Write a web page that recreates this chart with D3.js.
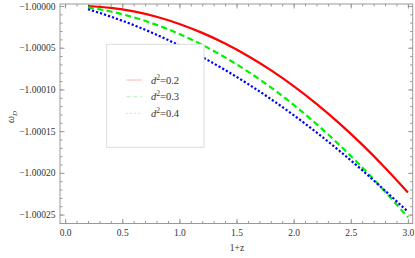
<!DOCTYPE html>
<html>
<head>
<meta charset="utf-8">
<script src="https://cdn.jsdelivr.net/npm/d3@7"></script>
<style>
  body { margin: 0; background: #fff; }
  svg { display: block; }
  .tick text { font-family: "Liberation Serif", "Times New Roman", serif; font-size: 9.5px; fill: #333; }
  .tick line { stroke: #999; }
</style>
</head>
<body>
<svg id="chart" width="415" height="258"></svg>
<script>
// values, one per 0.2 step of 1+z
var zs = [0.2, 0.4, 0.6, 0.8, 1.0, 1.2, 1.4, 1.6, 1.8, 2.0, 2.2, 2.4, 2.6, 2.8, 3.0];
var wD02 = [-1.0000000, -1.0000022, -1.0000065, -1.0000129, -1.0000215, -1.0000322, -1.0000450, -1.0000599,
            -1.0000769, -1.0000960, -1.0001173, -1.0001407, -1.0001662, -1.0001938, -1.0002235];
var wD03 = [-1.0000016, -1.0000066, -1.0000136, -1.0000226, -1.0000336, -1.0000466, -1.0000616, -1.0000786,
            -1.0000975, -1.0001185, -1.0001415, -1.0001665, -1.0001935, -1.0002224, -1.0002533];
var wD04 = [-1.0000039, -1.0000128, -1.0000229, -1.0000344, -1.0000472, -1.0000613, -1.0000767, -1.0000934,
            -1.0001115, -1.0001308, -1.0001515, -1.0001735, -1.0001968, -1.0002214, -1.0002466];
var legendLabels = ["0.2", "0.3", "0.4"];
var xMajor = [0, 0.5, 1, 1.5, 2, 2.5, 3];
var yMajor = [-1.0, -1.00005, -1.0001, -1.00015, -1.0002, -1.00025];

var svg = d3.select("#chart");
// plot frame edges (window.top is taken, so no "top")
var frameL = 60, frameR = 412.7, frameT = 4, frameB = 223.5;

var x = d3.scaleLinear().domain([-0.045, 3.042]).range([frameL, frameR]);
var y = d3.scaleLinear().domain([-0.9999976, -1.0002607]).range([frameT, frameB]);

var xMinor = d3.range(0, 31).map(function(i) { return i / 10; });
var yMinor = d3.range(0, 27).map(function(i) { return -1 - i * 0.00001; });

// frame
svg.append("rect")
  .attr("x", frameL).attr("y", frameT)
  .attr("width", frameR - frameL).attr("height", frameB - frameT)
  .attr("fill", "none").attr("stroke", "#999").attr("stroke-width", 1);

function addAxis(axis, tx, ty) {
  var g = svg.append("g").attr("transform", "translate(" + tx + "," + ty + ")").call(axis);
  g.select(".domain").remove();
  return g;
}

// bottom + top
addAxis(d3.axisBottom(x).tickValues(xMinor).tickSize(-2.5).tickFormat(""), 0, frameB);
addAxis(d3.axisBottom(x).tickValues(xMajor).tickSize(-4.5).tickPadding(6).tickFormat(d3.format(".1f")), 0, frameB);
addAxis(d3.axisTop(x).tickValues(xMinor).tickSize(-2.5).tickFormat(""), 0, frameT);
addAxis(d3.axisTop(x).tickValues(xMajor).tickSize(-4.5).tickFormat(""), 0, frameT);

// left + right
addAxis(d3.axisLeft(y).tickValues(yMinor).tickSize(-2.5).tickFormat(""), frameL, 0);
addAxis(d3.axisLeft(y).tickValues(yMajor).tickSize(-4.5).tickPadding(4.5).tickFormat(d3.format(".5f")), frameL, 0);
addAxis(d3.axisRight(y).tickValues(yMinor).tickSize(-2.5).tickFormat(""), frameR, 0);
addAxis(d3.axisRight(y).tickValues(yMajor).tickSize(-4.5).tickFormat(""), frameR, 0);

// curves
var series = [
  {vals: wD02, color: "#ff0000", dash: null, faint: "#ffb4b4"},
  {vals: wD03, color: "#00f000", dash: "6,3.5", faint: "#b4f5b4"},
  {vals: wD04, color: "#0000ff", dash: "2.2,2", faint: "#b4b4ff"}
];

var line = d3.line()
  .x(function(d) { return x(d[0]); })
  .y(function(d) { return y(d[1]); })
  .curve(d3.curveMonotoneX);

series.forEach(function(s) {
  svg.append("path")
    .datum(zs.map(function(z, i) { return [z, s.vals[i]]; }))
    .attr("fill", "none")
    .attr("stroke", s.color)
    .attr("stroke-width", 2.2)
    .attr("stroke-dasharray", s.dash)
    .attr("d", line);
});

// legend box, it hides the curves behind it
var lg = svg.append("g");
lg.append("rect")
  .attr("x", 106.7).attr("y", 44.3)
  .attr("width", 97.3).attr("height", 103)
  .attr("fill", "#fff").attr("stroke", "#ddd").attr("stroke-width", 1);

series.forEach(function(s, i) {
  var ly = 80 + i * 16.7;
  lg.append("line")
    .attr("x1", 126.5).attr("x2", 142)
    .attr("y1", ly).attr("y2", ly)
    .attr("stroke", s.faint).attr("stroke-width", 1)
    .attr("stroke-dasharray", i == 0 ? null : (i == 1 ? "4,3" : "1,3"));
  var t = lg.append("text")
    .attr("x", 151).attr("y", ly + 3.5)
    .style("font-family", "Liberation Serif, serif")
    .style("font-size", "10.5px")
    .attr("fill", "#333");
  t.append("tspan").style("font-style", "italic").text("d");
  t.append("tspan").attr("dy", -4).style("font-size", "7.5px").text("2");
  t.append("tspan").attr("dy", 4).text("=" + legendLabels[i]);
});

// axis titles
svg.append("text")
  .attr("x", 237).attr("y", 251)
  .attr("text-anchor", "middle")
  .style("font-family", "Liberation Serif, serif")
  .style("font-size", "9.5px")
  .attr("fill", "#333")
  .text("1+z");

var yl = svg.append("text")
  .attr("transform", "translate(14,117) rotate(-90)")
  .attr("text-anchor", "middle")
  .style("font-family", "Liberation Serif, serif")
  .style("font-size", "10px")
  .attr("fill", "#333");
yl.append("tspan").style("font-style", "italic").text("ω");
yl.append("tspan").attr("dy", 2.5).style("font-size", "7px").style("font-style", "italic").text("D");
</script>
</body>
</html>
